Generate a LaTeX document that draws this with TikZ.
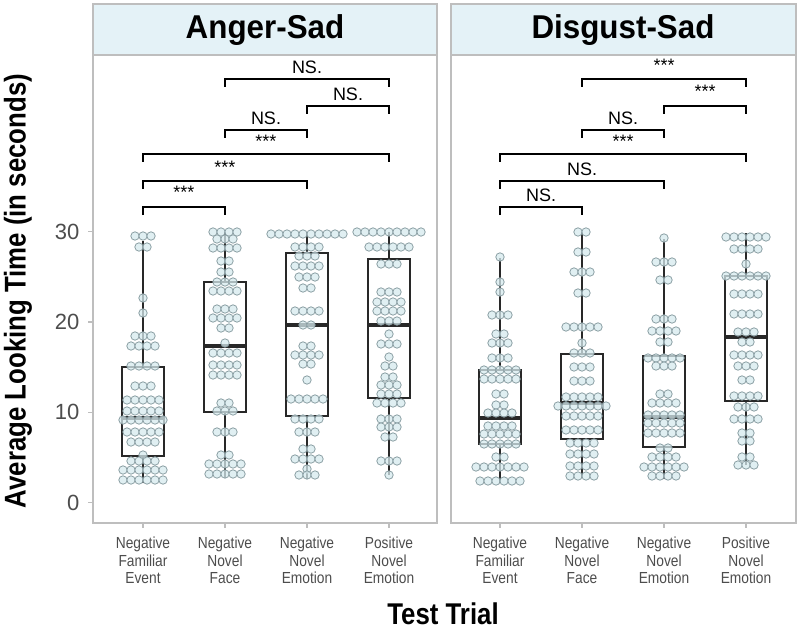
\documentclass[tikz,border=0pt]{standalone}
\usepackage{fontspec}
\setmainfont{Liberation Sans}
\newfontfamily\narrowsans[FakeStretch=0.86]{Liberation Sans}
\newfontfamily\titlesans[FakeStretch=0.95]{Liberation Sans}

\definecolor{stripblue}{RGB}{228,242,247}
\definecolor{framegray}{RGB}{190,190,190}
\definecolor{tickgray}{RGB}{77,77,77}
\definecolor{dotfill}{RGB}{214,234,238}
\definecolor{dotline}{RGB}{140,160,165}
\definecolor{boxline}{RGB}{40,40,40}

\tikzset{
  panelframe/.style={draw=framegray, line width=1.3pt},
  stripbox/.style={draw=framegray, fill=stripblue, line width=1.3pt},
  striptitle/.style={font=\titlesans\fontsize{33}{38}\selectfont\bfseries},
  axtitle/.style={font=\narrowsans\fontsize{30}{34}\selectfont\bfseries},
  ylabnum/.style={anchor=east, text=tickgray, font=\fontsize{22}{26}\selectfont},
  xlabtxt/.style={anchor=north, align=center, text=tickgray, inner sep=0pt, font=\narrowsans\fontsize{16}{17.5}\selectfont},
  ticks/.style={draw=framegray, line width=1.2pt},
  whisk/.style={draw=boxline, line width=2.6pt},
  boxln/.style={draw=boxline, line width=2.8pt},
  medln/.style={draw=boxline, line width=4.8pt},
  dotmark/.style={fill=dotfill, draw=dotline, line width=0.8pt, fill opacity=0.75},
  sigline/.style={draw=black, line width=1.9pt},
  siglab/.style={inner sep=0pt, font=\fontsize{18}{20}\selectfont}
}

% box: centre, box top, box bottom, median, whisker top, whisker bottom
\newcommand{\boxwhisk}[6]{%
  \draw[whisk] (#1,#5) -- (#1,#2);
  \draw[whisk] (#1,#3) -- (#1,#6);
  \draw[boxln] (#1-21,#2) rectangle (#1+21,#3);
  \draw[medln] (#1-21,#4) -- (#1+21,#4);
}
% dots: centre, list of row/count
\newcommand{\dotrows}[2]{%
  \foreach \yy/\nn in {#2} {
    \foreach \k in {1,...,\nn} {
      \draw[dotmark] ({#1+(\k-(\nn+1)/2)*8},\yy) circle[radius=4.2pt];
    }
  }
}
% bracket: name, y, left, right, label, label y
\newcommand{\sigbar}[6]{%
  \draw[sigline] (#3,#2+8) -- (#3,#2) -- (#4,#2) -- (#4,#2+8);
  \node[siglab] (#1) at ({(#3+#4)/2},#6) {#5};
}

\begin{document}
\begin{tikzpicture}[x=1pt,y=-1pt]
\useasboundingbox (0,0) rectangle (800,631);

% panels
\draw[stripbox] (93,4) rectangle (437,55);
\draw[panelframe] (93,55) rectangle (437,523);
\draw[stripbox] (451,4) rectangle (796,55);
\draw[panelframe] (451,55) rectangle (796,523);
\node[striptitle] (angersad) at (265,30) {Anger-Sad};
\node[striptitle] (disgustsad) at (623,30) {Disgust-Sad};

% y axis
\draw[ticks] (88,502.5) -- (93,502.5);
\draw[ticks] (88,412.2) -- (93,412.2);
\draw[ticks] (88,321.9) -- (93,321.9);
\draw[ticks] (88,231.6) -- (93,231.6);
\node[ylabnum] (y0) at (83,502.5) {0};
\node[ylabnum] (y10) at (83,412.2) {10};
\node[ylabnum] (y20) at (83,321.9) {20};
\node[ylabnum] (y30) at (83,231.6) {30};
\node[axtitle, rotate=90] (ytitle) at (18,291) {Average Looking Time (in seconds)};

% x axis
\foreach \cx in {143,225,307,389,500,582,664,746} {
  \draw[ticks] (\cx,523) -- (\cx,528);
}
\node[xlabtxt] (a1) at (143,537) {Negative\\Familiar\\Event};
\node[xlabtxt] (a2) at (225,537) {Negative\\Novel\\Face};
\node[xlabtxt] (a3) at (307,537) {Negative\\Novel\\Emotion};
\node[xlabtxt] (a4) at (389,537) {Positive\\Novel\\Emotion};
\node[xlabtxt] (d1) at (500,537) {Negative\\Familiar\\Event};
\node[xlabtxt] (d2) at (582,537) {Negative\\Novel\\Face};
\node[xlabtxt] (d3) at (664,537) {Negative\\Novel\\Emotion};
\node[xlabtxt] (d4) at (746,537) {Positive\\Novel\\Emotion};
\node[axtitle] (xtitle) at (443,614) {Test Trial};

% boxes
\boxwhisk{143}{367}{456}{418}{241}{483}
\boxwhisk{225}{282}{412}{346}{232}{478}
\boxwhisk{307}{253}{416}{325}{232}{479}
\boxwhisk{389}{259}{398}{325}{232}{475}
\boxwhisk{500}{370}{444}{418}{258}{483}
\boxwhisk{582}{354}{439}{403}{232}{478}
\boxwhisk{664}{356}{447}{417}{239}{479}
\boxwhisk{746}{276}{401}{337}{233}{465}

% dots, Anger-Sad
\dotrows{143}{236/3,247/2,298/1,313/1,336/3,346/4,366/4,386/3,400/5,411/5,420/6,432/5,442/4,455/1,461/4,470/6,480/6}
\dotrows{225}{232/4,239/3,248/4,261/2,272/2,282/3,291/4,309/3,318/4,328/2,343/1,353/4,365/4,375/4,403/2,411/3,432/3,455/2,464/5,474/5}
\dotrows{307}{234/10,247/4,256/3,266/4,277/3,288/2,311/4,325/2,346/2,355/4,364/2,380/1,399/5,419/4,432/3,449/2,459/4,469/1,475/3}
\dotrows{389}{232/9,247/6,264/3,292/3,302/4,311/4,321/3,334/1,344/3,357/1,366/2,377/2,385/3,394/3,403/4,419/3,427/3,437/2,461/3,475/1}
% dots, Disgust-Sad
\dotrows{500}{257/1,282/1,292/1,315/3,334/2,343/3,358/3,370/5,379/5,394/2,405/2,413/4,426/4,434/5,444/5,457/2,467/7,481/6}
\dotrows{582}{232/2,252/2,272/3,293/2,327/5,343/1,353/3,367/3,381/3,397/5,406/7,416/5,430/5,443/4,454/4,466/4,476/4}
\dotrows{664}{238/1,262/3,280/2,319/3,331/4,342/2,358/5,366/3,394/2,403/4,415/5,423/5,433/5,448/2,457/4,467/6,476/4}
\dotrows{746}{237/6,249/4,264/1,276/6,294/4,314/4,332/3,342/2,355/4,366/3,380/2,396/4,407/3,419/4,433/2,441/2,457/2,465/3}

% brackets, Anger-Sad
\sigbar{as1}{79}{225}{389}{NS.}{67}
\sigbar{as2}{106}{307}{389}{NS.}{94}
\sigbar{as3}{130}{225}{307}{NS.}{118}
\sigbar{as4}{154}{143}{389}{***}{141}
\sigbar{as5}{181}{143}{307}{***}{167}
\sigbar{as6}{207}{143}{225}{***}{192}
% brackets, Disgust-Sad
\sigbar{ds1}{79}{582}{746}{***}{65}
\sigbar{ds2}{106}{664}{746}{***}{91}
\sigbar{ds3}{130}{582}{664}{NS.}{118}
\sigbar{ds4}{154}{500}{746}{***}{141}
\sigbar{ds5}{181}{500}{664}{NS.}{169}
\sigbar{ds6}{207}{500}{582}{NS.}{195}
\end{tikzpicture}
\end{document}
